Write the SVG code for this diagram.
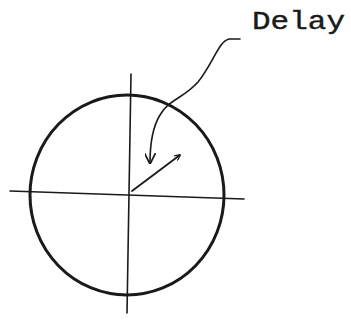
<svg xmlns="http://www.w3.org/2000/svg" width="351" height="321" viewBox="0 0 351 321">
<style>
.ln{fill:none;stroke:#1a1a1a;stroke-linecap:round}
.lbl{font-family:"Liberation Mono","DejaVu Sans Mono",monospace;font-size:25px;fill:#1a1a1a;stroke:#1a1a1a;stroke-width:0.4}
</style>
<defs>
<marker id="ah" viewBox="0 0 10 10" refX="9" refY="5" markerWidth="6" markerHeight="6" orient="auto" markerUnits="userSpaceOnUse">
<path d="M0,0 L10,5 L0,10" fill="none" stroke="#1a1a1a" stroke-width="2"/>
</marker>
<marker id="ah2" viewBox="0 0 10 10" refX="9" refY="5" markerWidth="11" markerHeight="11" orient="auto" markerUnits="userSpaceOnUse">
<path d="M0,0 L10,5 L0,10" fill="none" stroke="#1a1a1a" stroke-width="1.6"/>
</marker>
</defs>
<rect width="351" height="321" fill="#ffffff"/>
<g id="circle">
<ellipse class="ln" cx="127" cy="195" rx="97" ry="100" stroke-width="3"/>
</g>
<g id="axes">
<line class="ln" x1="131" y1="74" x2="127" y2="313" stroke-width="1.6"/>
<line class="ln" x1="10" y1="191" x2="244" y2="199" stroke-width="1.6"/>
</g>
<g id="label">
<text class="lbl" x="252" y="29" textLength="93" lengthAdjust="spacingAndGlyphs">Delay</text>
</g>
<g id="connectors">
<line class="ln" x1="132" y1="191" x2="180" y2="155" stroke-width="1.8" marker-end="url(#ah)"/>
<path class="ln" d="M240,39 L229,39 C218,42 214,62 198,82 C184,98 168,100 160,115 C152,128 150,146 150,163" stroke-width="1.6" marker-end="url(#ah2)"/>
</g>
</svg>
